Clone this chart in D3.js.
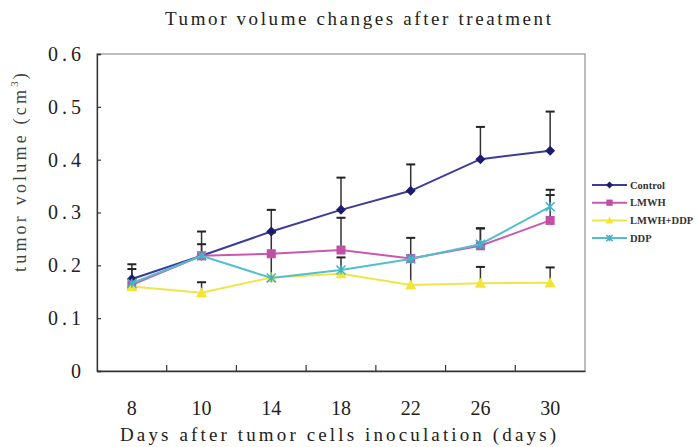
<!DOCTYPE html>
<html><head><meta charset="utf-8">
<script src="https://cdn.jsdelivr.net/npm/d3@7"></script>
<style>body{margin:0;background:#fff}svg{display:block}</style>
</head><body>
<svg id="c" width="697" height="447"></svg>
<script>
const days = ["8","10","14","18","22","26","30"];
const control = [0.174,0.218,0.264,0.305,0.341,0.401,0.417];
const controlErr = [0.028,0.046,0.041,0.061,0.050,0.061,0.074];
const lmwh = [0.163,0.218,0.222,0.229,0.213,0.237,0.285];
const lmwhErr = [0.030,0.022,0.040,0.061,0.039,0.033,0.048];
const lmwhDdp = [0.160,0.148,0.177,0.184,0.163,0.166,0.167];
const lmwhDdpErr = [0,0.020,0,0,0.050,0.031,0.029];
const ddp = [0.166,0.218,0.176,0.191,0.212,0.240,0.311];
const ddpErr = [0,0,0.046,0.024,0,0.030,0.032];
const yTicks = [0,0.1,0.2,0.3,0.4,0.5,0.6];
const seriesNames = ["Control","LMWH","LMWH+DDP","DDP"];

const series = [
  {name:seriesNames[0], vals:control, err:controlErr, line:"#3b3b9c", mark:"#1c1c6e", shape:"diamond"},
  {name:seriesNames[1], vals:lmwh, err:lmwhErr, line:"#cc58ad", mark:"#c24fa6", shape:"square"},
  {name:seriesNames[2], vals:lmwhDdp, err:lmwhDdpErr, line:"#efe549", mark:"#f2e534", shape:"triangle"},
  {name:seriesNames[3], vals:ddp, err:ddpErr, line:"#52bfd0", mark:"#3fb3c6", shape:"star"}
];

const svg = d3.select("#c");
const L=97, R=585, T=54, B=371;
const x = d3.scaleBand().domain(days).range([L,R]);
const y = d3.scaleLinear().domain([0,0.6]).range([B,T]);
const serif = "'Liberation Serif', 'DejaVu Serif', serif";

// frame
svg.append("rect").attr("x",L).attr("y",T).attr("width",R-L).attr("height",B-T)
  .attr("fill","none").attr("stroke","#9a9a9a").attr("stroke-width",1.3);

// y axis
const ya = svg.append("g").attr("transform",`translate(${L},0)`)
  .call(d3.axisLeft(y).tickValues(yTicks).tickSize(-4).tickPadding(16)
    .tickFormat(d=> d===0 ? "0" : d3.format(".1f")(d)));
ya.select(".domain").attr("stroke","#333").attr("stroke-width",1.3);
ya.selectAll(".tick line").attr("stroke","#333").attr("stroke-width",1.2);
ya.selectAll(".tick text").attr("font-family",serif).attr("font-size",20).attr("fill","#222")
  .each(function(d){ if(d!==0) d3.select(this).attr("textLength",33).attr("lengthAdjust","spacing"); });

// x axis
const xa = svg.append("g").attr("transform",`translate(0,${B})`)
  .call(d3.axisBottom(x).tickSize(0).tickPadding(30));
xa.select(".domain").attr("stroke","#333").attr("stroke-width",1.3);
xa.selectAll(".tick text").attr("font-family",serif).attr("font-size",20).attr("fill","#222");
// tick marks between categories (inside)
svg.append("g").selectAll("line").data(days.slice(1)).join("line")
  .attr("x1",d=>x(d)).attr("x2",d=>x(d)).attr("y1",B).attr("y2",B-6)
  .attr("stroke","#333").attr("stroke-width",1.2);

// titles
svg.append("text").attr("x",165).attr("y",25)
  .attr("font-family",serif).attr("font-size",19).attr("fill","#222")
  .attr("textLength",386).attr("lengthAdjust","spacing")
  .text("Tumor volume changes after treatment");
svg.append("text").attr("x",120).attr("y",441)
  .attr("font-family",serif).attr("font-size",19).attr("fill","#222")
  .attr("textLength",436).attr("lengthAdjust","spacing")
  .text("Days after tumor cells inoculation (days)");
const yt = svg.append("text").attr("transform","translate(26,272) rotate(-90)")
  .attr("font-family",serif).attr("font-size",18).attr("fill","#444");
yt.append("tspan").attr("textLength",182).attr("lengthAdjust","spacing").text("tumor volume (cm");
yt.append("tspan").attr("font-size",11).attr("dy",-8).text("3");
yt.append("tspan").attr("dy",8).attr("dx",2).text(")");

const cx = d=>x(d)+x.bandwidth()/2;

// error bars (plus direction)
series.forEach(s=>{
  const g = svg.append("g");
  s.vals.forEach((v,i)=>{
    if(!s.err[i]) return;
    const xx = cx(days[i]), y0=y(v), y1=y(v+s.err[i]);
    g.append("line").attr("x1",xx).attr("x2",xx).attr("y1",y0).attr("y2",y1).attr("stroke","#333").attr("stroke-width",1.5);
    g.append("line").attr("x1",xx-4.5).attr("x2",xx+4.5).attr("y1",y1).attr("y2",y1).attr("stroke","#222").attr("stroke-width",2);
  });
});

function marker(g, shape, color, px, py, s){
  s = s||1;
  if(shape==="diamond") g.append("path").attr("d",`M${px},${py-5*s}L${px+5*s},${py}L${px},${py+5*s}L${px-5*s},${py}Z`).attr("fill",color);
  else if(shape==="square") g.append("rect").attr("x",px-4.5*s).attr("y",py-4.5*s).attr("width",9*s).attr("height",9*s).attr("fill",color);
  else if(shape==="triangle") g.append("path").attr("d",`M${px},${py-5.5*s}L${px+5.5*s},${py+4.5*s}L${px-5.5*s},${py+4.5*s}Z`).attr("fill",color);
  else {
    const r=4.5*s;
    g.append("path").attr("d",`M${px-r},${py-r}L${px+r},${py+r}M${px-r},${py+r}L${px+r},${py-r}M${px},${py-r}L${px},${py+r}`)
      .attr("stroke",color).attr("stroke-width",1.5).attr("fill","none");
  }
}

// lines and markers
const line = d3.line().x((d,i)=>cx(days[i])).y(d=>y(d));
series.forEach(s=>{
  svg.append("path").datum(s.vals).attr("d",line).attr("fill","none").attr("stroke",s.line).attr("stroke-width",2);
  const g = svg.append("g");
  s.vals.forEach((v,i)=>marker(g,s.shape,s.mark,cx(days[i]),y(v),1));
});

// legend
const lg = svg.append("g");
series.forEach((s,i)=>{
  const ly = 185 + i*17.7;
  lg.append("line").attr("x1",592).attr("x2",627).attr("y1",ly).attr("y2",ly).attr("stroke",s.line).attr("stroke-width",2);
  marker(lg,s.shape,s.mark,609.5,ly,0.7);
  lg.append("text").attr("x",630).attr("y",ly+3.5).attr("font-family",serif)
    .attr("font-weight","bold").attr("font-size",10.5).attr("fill","#333").text(s.name);
});
</script>
</body></html>
